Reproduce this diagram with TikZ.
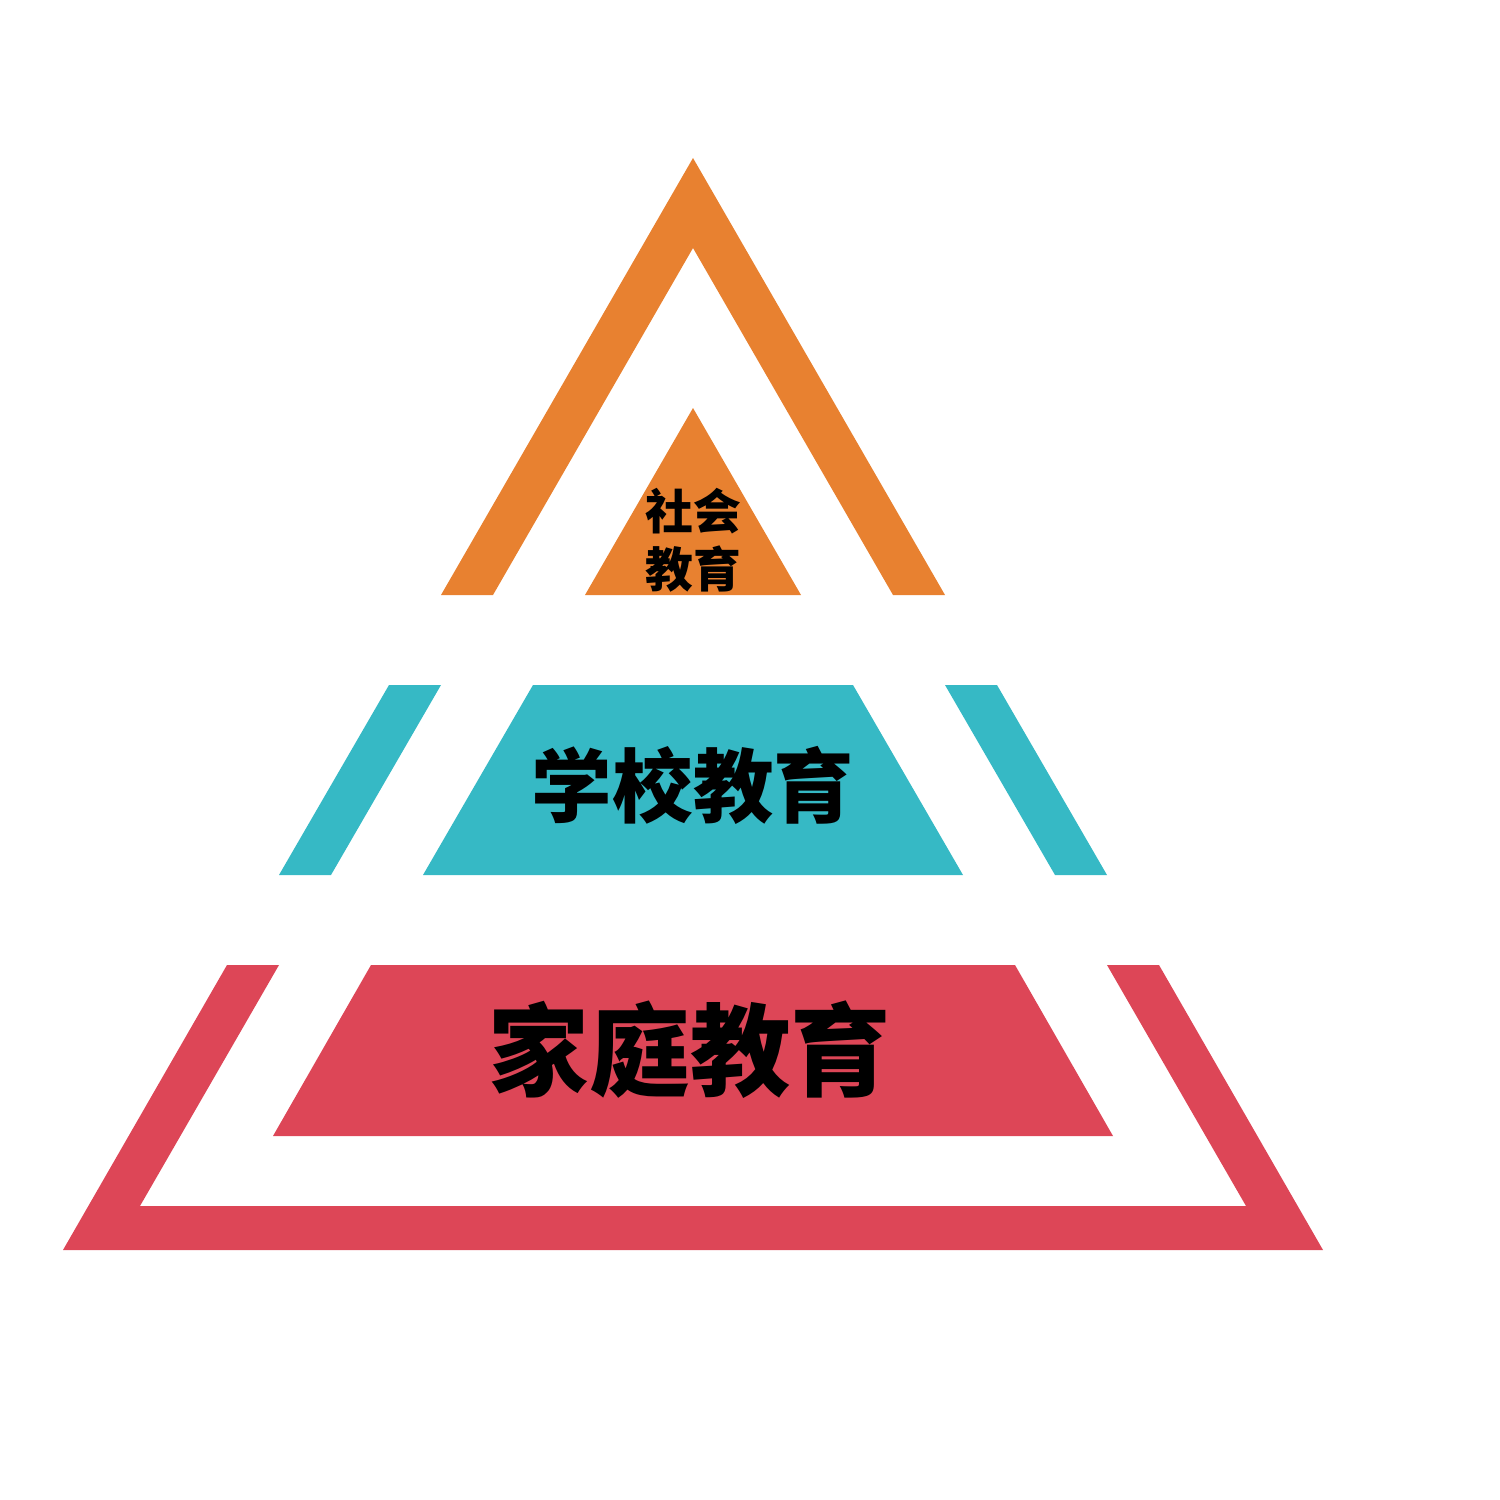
\documentclass[tikz,border=0pt]{standalone}
\usepackage{fontspec}
\newfontfamily\cjk{Noto Sans CJK SC}
\definecolor{orangeband}{RGB}{232,129,48}
\definecolor{tealband}{RGB}{54,185,197}
\definecolor{redband}{RGB}{221,70,87}
\begin{document}
\begin{tikzpicture}[line join=miter,x=0.01cm,y=-0.01cm,
	label/.style={inner sep=0pt,align=center,text=black,font=\cjk\bfseries}]
	\useasboundingbox (0,0) rectangle (1500,1500);
	% top level
	\fill[orangeband] (441,595) -- (693,158) -- (945,595) -- (893,595) -- (693,248) -- (493,595) -- cycle;
	\fill[orangeband] (585,595) -- (693,408) -- (801,595) -- cycle;
	% middle level
	\fill[tealband] (389,685) -- (441,685) -- (331,875) -- (279,875) -- cycle;
	\fill[tealband] (533,685) -- (853,685) -- (963,875) -- (423,875) -- cycle;
	\fill[tealband] (945,685) -- (997,685) -- (1107,875) -- (1055,875) -- cycle;
	% bottom level
	\fill[redband] (227,965) -- (279,965) -- (140,1206) -- (1246,1206) -- (1107,965) -- (1159,965) -- (1323,1250) -- (63,1250) -- cycle;
	\fill[redband] (371,965) -- (1015,965) -- (1113,1136) -- (273,1136) -- cycle;
	\node[label,font=\cjk\bfseries\fontsize{13.6pt}{16.4pt}\selectfont] (shehui) at (693,540) {社会\\教育};
	\node[label,font=\cjk\bfseries\fontsize{22.9pt}{26pt}\selectfont] (xuexiao) at (693,785) {学校教育};
	\node[label,font=\cjk\bfseries\fontsize{28.6pt}{32pt}\selectfont] (jiating) at (690,1050) {家庭教育};
\end{tikzpicture}
\end{document}
